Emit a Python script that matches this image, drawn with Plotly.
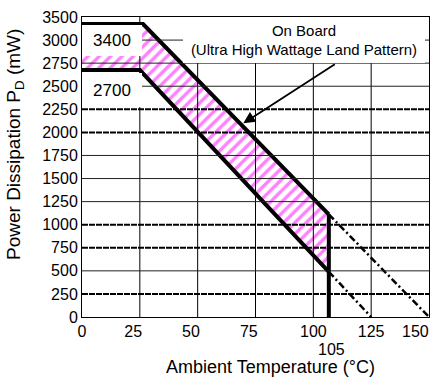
import plotly.graph_objects as go

# ---------------- data ----------------
ambient_upper = [0, 26.4, 106.7]          # °C, upper derating curve (solid)
pd_upper = [3174, 3174, 1112]             # mW
ambient_lower = [0, 25, 106.7]            # °C, lower derating curve (solid)
pd_lower = [2675, 2675, 490]              # mW
ambient_upper_ext = [106.7, 150]          # dash-dot extension
pd_upper_ext = [1112, 0]
ambient_lower_ext = [106.7, 125]
pd_lower_ext = [490, 0]
cutoff_temp = 106.7                        # vertical limit line

NB = "\u00a0"
x_tickvals = [0, 25, 50, 75, 100, 125]
x_ticktext = ["0", "25" + NB * 3, "50" + NB * 3, "75" + NB * 3, "100", "125"]
x_last_tick = "150"                        # drawn right-aligned at the axis end
y_tickvals = [0, 250, 500, 750, 1000, 1250, 1500, 1750, 2000, 2250, 2500, 2750, 3000, 3250]
y_ticktext = ["0", "250", "500", "750", "1000", "1250", "1500", "1750", "2000",
              "2250", "2500", "2750", "3000", "3500"]
grid_solid = [500, 1250, 1500, 1750, 2500, 2750, 3000]
grid_heavy = [250, 750, 1000, 2000, 2250]
grid_vertical = [25, 50, 75, 100, 125]

FONT = "Liberation Sans, Arial, sans-serif"
W, H = 436, 380
ML, MR, MT, MB = 82, 7, 17, 63
PW, PH = W - ML - MR, H - MT - MB


def px_x(p):
    return (p - ML) / PW


def px_y(p):
    return (H - MB - p) / PH


fig = go.Figure()

# hatched band between the two curves
hx = ambient_upper + [cutoff_temp] + ambient_lower[::-1]
hy = pd_upper + [pd_lower[-1]] + pd_lower[::-1]
fig.add_trace(go.Scatter(
    x=hx, y=hy, mode="none", fill="toself",
    fillcolor="rgba(0,0,0,0)",
    fillpattern=dict(shape="/", fgcolor="#ff80ff", bgcolor="rgba(0,0,0,0)",
                     size=8, solidity=0.42, fillmode="replace"),
    hoverinfo="skip", showlegend=False))

# dash-dot extensions
for xs, ys in [(ambient_upper_ext, pd_upper_ext), (ambient_lower_ext, pd_lower_ext)]:
    fig.add_trace(go.Scatter(x=xs, y=ys, mode="lines",
                             line=dict(color="black", width=2.5, dash="7px,3px,2px,3px"),
                             showlegend=False))

# solid thick curves
for xs, ys in [(ambient_upper, pd_upper), (ambient_lower, pd_lower)]:
    fig.add_trace(go.Scatter(x=xs, y=ys, mode="lines",
                             line=dict(color="black", width=4),
                             showlegend=False, cliponaxis=False))

fig.add_trace(go.Scatter(x=[cutoff_temp, cutoff_temp], y=[0, pd_upper[-1]], mode="lines",
                         line=dict(color="black", width=4),
                         showlegend=False, cliponaxis=False))

shapes = []
for v in grid_vertical:
    shapes.append(dict(type="line", xref="x", yref="y", x0=v, x1=v, y0=0, y1=3250,
                       line=dict(color="black", width=1), layer="above"))
for v in grid_solid:
    shapes.append(dict(type="line", xref="x", yref="y", x0=0, x1=150, y0=v, y1=v,
                       line=dict(color="#222", width=1), layer="above"))
for v in grid_heavy:
    shapes.append(dict(type="line", xref="x", yref="y", x0=0, x1=150, y0=v, y1=v,
                       line=dict(color="black", width=2, dash="6px,1px"), layer="above"))


def ann(**kw):
    base = dict(xref="paper", yref="paper", xanchor="center", yanchor="middle",
                showarrow=False)
    base.update(kw)
    return base


annotations = [
    # On Board box
    ann(x=px_x(304), y=px_y(40),
        text="On Board<br>(Ultra High Wattage Land Pattern)",
        width=242, height=46, bgcolor="white", borderpad=0, borderwidth=0,
        font=dict(family=FONT, size=15, color="black"), align="center"),
    ann(x=px_x(112), y=px_y(41), text="3400", width=60, height=31, bgcolor="white",
        borderpad=0, borderwidth=0, font=dict(family=FONT, size=17, color="black")),
    ann(x=px_x(112), y=px_y(90), text="2700", width=60, height=34, bgcolor="white",
        borderpad=0, borderwidth=0, font=dict(family=FONT, size=17, color="black")),
    # arrow
    dict(xref="paper", yref="paper", x=px_x(243.3), y=px_y(123.3),
         axref="pixel", ayref="pixel", ax=93, ay=-60, text="", showarrow=True,
         arrowhead=2, arrowsize=1.3, arrowwidth=1.8, arrowcolor="black"),
    # last x tick label, kept inside the figure like the reference
    ann(x=px_x(431), y=px_y(331), xanchor="right", text=x_last_tick,
        font=dict(family=FONT, size=16, color="black")),
    # 105 label
    ann(x=px_x(331.7), y=px_y(349), text="105",
        font=dict(family=FONT, size=16, color="black")),
    # axis titles
    ann(x=px_x(270), y=px_y(367), text="Ambient Temperature (°C)",
        font=dict(family=FONT, size=18, color="black")),
    ann(x=px_x(15), y=px_y(145), textangle=-90,
        text="Power Dissipation P<sub>D</sub> (mW)",
        font=dict(family=FONT, size=19, color="black")),
]

fig.update_layout(
    width=W, height=H, margin=dict(l=ML, r=MR, t=MT, b=MB, autoexpand=False),
    paper_bgcolor="white", plot_bgcolor="white",
    showlegend=False, shapes=shapes, annotations=annotations,
    font=dict(family=FONT, color="black"),
)
fig.update_xaxes(range=[0, 150], showgrid=False, zeroline=False, showline=True,
                 mirror=True, linecolor="black", linewidth=1, ticks="",
                 tickvals=x_tickvals, ticktext=x_ticktext, automargin=False,
                 tickfont=dict(family=FONT, size=16, color="black"))
fig.update_yaxes(range=[0, 3250], showgrid=False, zeroline=False, showline=True,
                 mirror=True, linecolor="black", linewidth=1, ticks="",
                 tickvals=y_tickvals, ticktext=y_ticktext, automargin=False,
                 tickfont=dict(family=FONT, size=16, color="black"))

fig.write_html("out.html", config={"displayModeBar": False},
               post_script="document.body.style.margin='0';document.body.style.overflow='hidden';")
